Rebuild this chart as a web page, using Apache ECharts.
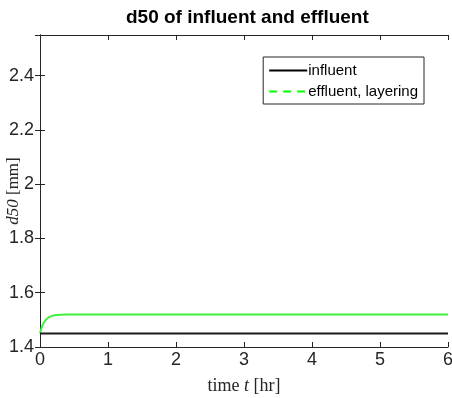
<!DOCTYPE html>
<html>
<head>
<meta charset="utf-8">
<script src="https://cdn.jsdelivr.net/npm/echarts@6/dist/echarts.min.js"></script>
<style>
  html, body { margin: 0; padding: 0; background: #fff; }
  #chart { width: 452px; height: 398px; }
</style>
</head>
<body>
<div id="chart"></div>
<script>
// time samples [hr]
var timeHr = [0, 0.02, 0.04, 0.06, 0.08, 0.1, 0.13, 0.16, 0.2, 0.25, 0.3, 0.4, 0.5, 1, 2, 3, 4, 5, 6];
// d50 of the influent [mm]
var influentD50 = [1.45, 1.45, 1.45, 1.45, 1.45, 1.45, 1.45, 1.45, 1.45, 1.45, 1.45, 1.45, 1.45, 1.45, 1.45, 1.45, 1.45, 1.45, 1.45];
// d50 of the effluent with layering [mm]
var effluentD50 = [1.45, 1.468, 1.481, 1.491, 1.498, 1.503, 1.509, 1.513, 1.516, 1.518, 1.519, 1.52, 1.52, 1.52, 1.52, 1.52, 1.52, 1.52, 1.52];
var xTicks = [0, 1, 2, 3, 4, 5, 6];
var yTicks = [1.4, 1.6, 1.8, 2, 2.2, 2.4];

function pairs(xs, ys) {
  return xs.map(function (x, i) { return [x, ys[i]]; });
}

var axisColor = '#262626';
var tickFont = { color: axisColor, fontSize: 18, fontFamily: 'Liberation Sans, Arial, sans-serif' };
var serif = 'Liberation Serif, DejaVu Serif, serif';

var chart = echarts.init(document.getElementById('chart'), null, { renderer: 'canvas' });
chart.setOption({
  animation: false,
  backgroundColor: '#ffffff',
  title: {
    text: 'd50 of influent and effluent',
    left: 121,
    top: 3,
    textStyle: { fontSize: 19, fontWeight: 'bold', color: '#000', fontFamily: 'Liberation Sans, Arial, sans-serif' }
  },
  legend: {
    right: 28,
    top: 57,
    orient: 'vertical',
    itemGap: 6,
    itemWidth: 38,
    itemHeight: 14,
    padding: [6, 6, 5, 5],
    borderColor: '#262626',
    borderWidth: 1,
    borderRadius: 0,
    backgroundColor: '#fff',
    textStyle: { fontSize: 15, color: '#000', fontFamily: 'Liberation Sans, Arial, sans-serif', padding: [0, 0, 0, -4] },
    data: [
      { name: 'influent', itemStyle: { opacity: 0 }, lineStyle: { color: '#000', width: 2, type: 'solid' } },
      { name: 'effluent, layering', itemStyle: { opacity: 0 }, lineStyle: { color: '#00ff00', width: 2, type: [8, 6] } }
    ]
  },
  grid: { left: 40, right: 4, top: 35, bottom: 51, containLabel: false, outerBoundsMode: 'none' },
  xAxis: [{
    type: 'value', min: 0, max: 6, interval: 1,
    name: 'time {i|t} [hr]',
    nameLocation: 'middle', nameGap: 30, nameMoveOverlap: false,
    nameTextStyle: {
      fontSize: 18, color: axisColor, fontFamily: serif,
      rich: { i: { fontSize: 18, fontStyle: 'italic', color: axisColor, fontFamily: serif } }
    },
    axisLine: { lineStyle: { color: axisColor, width: 1 } },
    axisTick: { inside: true, length: 5, lineStyle: { color: axisColor } },
    axisLabel: Object.assign({ margin: 4, formatter: function (v) { return xTicks.indexOf(v) >= 0 ? String(v) : ''; } }, tickFont),
    splitLine: { show: false }
  }, {
    type: 'value', min: 0, max: 6, interval: 1, position: 'top',
    axisLine: { show: true, lineStyle: { color: axisColor, width: 1 } },
    axisTick: { inside: true, length: 5, lineStyle: { color: axisColor } },
    axisLabel: { show: false },
    splitLine: { show: false }
  }],
  yAxis: [{
    type: 'value', min: 1.4, max: 2.55, interval: 0.2,
    name: '{i|d50} [mm]',
    nameLocation: 'middle', nameGap: 18, nameRotate: 90, nameMoveOverlap: false,
    nameTextStyle: {
      fontSize: 17, color: axisColor, fontFamily: serif,
      rich: { i: { fontSize: 17, fontStyle: 'italic', color: axisColor, fontFamily: serif } }
    },
    axisLine: { show: true, lineStyle: { color: axisColor, width: 1 } },
    axisTick: { inside: true, length: 5, lineStyle: { color: axisColor } },
    axisLabel: Object.assign({
      margin: 6, showMaxLabel: false,
      formatter: function (v) {
        var r = Math.round(v * 10) / 10;
        return yTicks.indexOf(r) >= 0 ? String(r) : '';
      }
    }, tickFont),
    splitLine: { show: false }
  }, {
    type: 'value', min: 1.4, max: 2.55, interval: 0.2, position: 'right',
    axisLine: { show: true, lineStyle: { color: axisColor, width: 1 } },
    axisTick: { inside: true, length: 5, lineStyle: { color: axisColor } },
    axisLabel: { show: false },
    splitLine: { show: false }
  }],
  series: [{
    name: 'influent',
    type: 'line',
    data: pairs(timeHr, influentD50),
    symbol: 'none',
    color: '#000',
    lineStyle: { color: '#1a1a1a', width: 2 },
    z: 3
  }, {
    name: 'effluent, layering',
    type: 'line',
    data: pairs(timeHr, effluentD50),
    symbol: 'none',
    smooth: 0.3,
    color: '#00ff00',
    lineStyle: { color: '#40f040', width: 2 },
    z: 2
  }]
});
</script>
</body>
</html>
